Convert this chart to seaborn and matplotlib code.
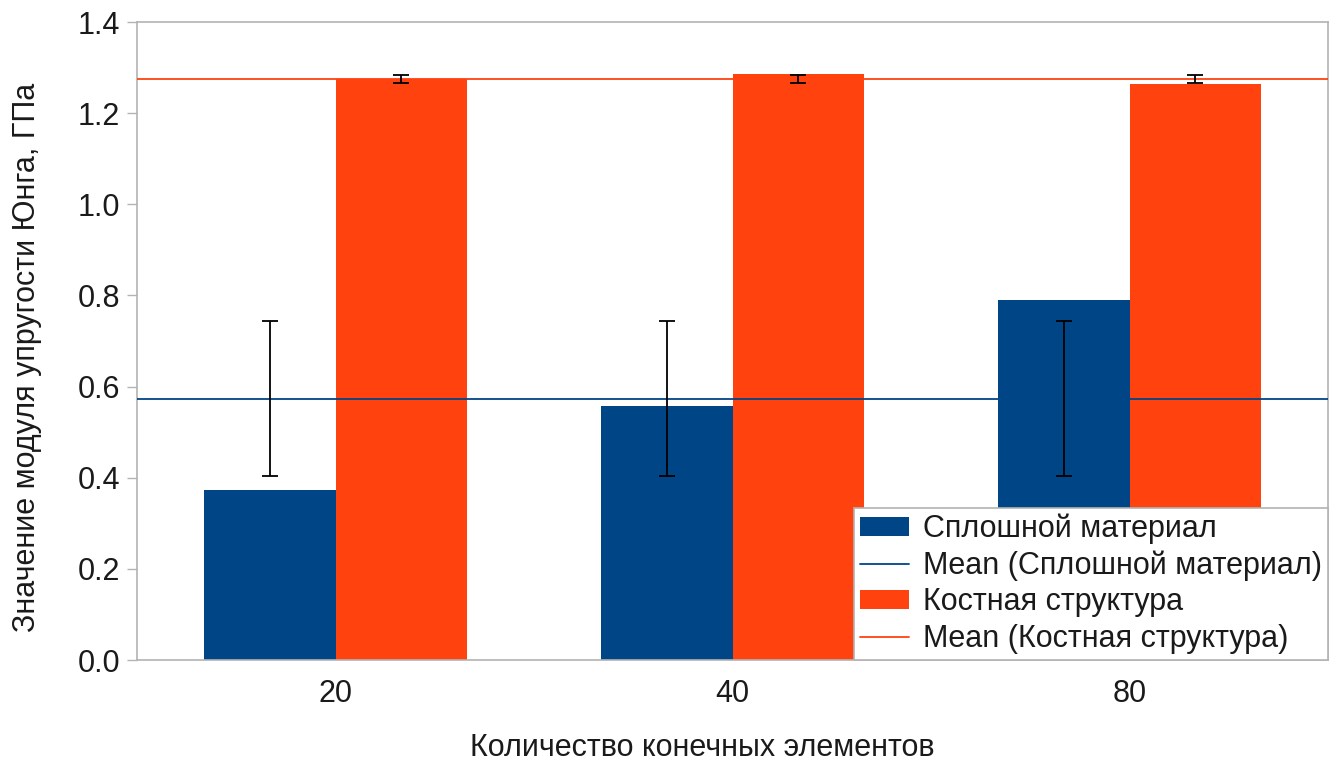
import numpy as np
import pandas as pd
import matplotlib
matplotlib.use("Agg")
import matplotlib.pyplot as plt
from matplotlib.patches import Patch
from matplotlib.lines import Line2D
import seaborn as sns

# Young's modulus (GPa) versus number of finite elements
elements = ["20", "40", "80"]
solid = [0.373, 0.557, 0.790]
bone = [1.275, 1.286, 1.264]
series_names = ["Сплошной материал", "Костная структура"]
mean_names = ["Mean (Сплошной материал)", "Mean (Костная структура)"]
y_ticks = [0.0, 0.2, 0.4, 0.6, 0.8, 1.0, 1.2, 1.4]
x_title = "Количество конечных элементов"
y_title = "Значение модуля упругости Юнга, ГПа"

colors = ["#004586", "#ff420e"]
frame_col = "#b3b3b3"
text_col = "#1a1a1a"
fs = 22

sns.set_theme(style="white")
plt.rcParams["font.family"] = ["Liberation Sans", "DejaVu Sans"]

df = pd.DataFrame({
    "n": elements * 2,
    "E": solid + bone,
    "series": [series_names[0]] * 3 + [series_names[1]] * 3,
})

W, H = 1336, 764
fig = plt.figure(figsize=(W / 100, H / 100), dpi=100)
ax = fig.add_axes([137 / W, 1 - 660 / H, (1328 - 137) / W, (660 - 22) / H])

sns.barplot(data=df, x="n", y="E", hue="series", order=elements,
            hue_order=series_names, palette=colors, width=0.66,
            errorbar=None, saturation=1, ax=ax, legend=False,
            edgecolor="none", linewidth=0)

# mean lines and standard-deviation bars centred on each series mean
for k, vals in enumerate([solid, bone]):
    m = float(np.mean(vals))
    s = float(np.std(vals))
    ax.axhline(m, color=colors[k], lw=1.3, zorder=3)
    cont = ax.containers[k]
    xs = [p.get_x() + p.get_width() / 2 for p in cont]
    ax.errorbar(xs, [m] * len(xs), yerr=s, fmt="none", ecolor="black",
                elinewidth=1.3, capsize=6, capthick=1.3, zorder=4)

ax.set_xlim(-0.5, 2.5)
ax.set_ylim(0, 1.4)
ax.set_yticks(y_ticks)
ax.set_yticklabels([f"{v:.1f}" for v in y_ticks])
ax.set_xticks(range(len(elements)))
ax.set_xticklabels(elements)
ax.set_xticks([-0.5, 0.5, 1.5, 2.5], minor=True)
ax.tick_params(axis="x", which="major", length=0, pad=14, labelsize=fs, labelcolor=text_col)
ax.tick_params(axis="x", which="minor", length=6, width=1, color=frame_col, direction="out")
ax.tick_params(axis="y", length=7, width=1, color=frame_col, direction="out",
               labelsize=fs, labelcolor=text_col, pad=5, left=True)

for sp in ax.spines.values():
    sp.set_visible(True)
    sp.set_color(frame_col)
    sp.set_linewidth(1.2)

ax.set_xlabel("")
ax.set_ylabel("")
fig.text(702 / W, 1 - 748 / H, x_title, fontsize=fs, color=text_col,
         ha="center", va="center")
fig.text(27 / W, 1 - 357 / H, y_title, fontsize=fs, color=text_col,
         ha="center", va="center", rotation=90)

handles = [
    Patch(facecolor=colors[0], edgecolor="none"),
    Line2D([], [], color=colors[0], lw=1.3),
    Patch(facecolor=colors[1], edgecolor="none"),
    Line2D([], [], color=colors[1], lw=1.3),
]
labels = [series_names[0], mean_names[0], series_names[1], mean_names[1]]
leg = ax.legend(handles, labels, loc="lower right", borderaxespad=0,
                fontsize=fs, frameon=True, fancybox=False, framealpha=1,
                edgecolor=frame_col, handlelength=1.6, handleheight=0.6,
                handletextpad=0.45, labelspacing=0.21, borderpad=0.2)
leg.get_frame().set_linewidth(1.2)
leg.set_zorder(5)
for t in leg.get_texts():
    t.set_color(text_col)

fig.savefig("out.png", dpi=100, facecolor="white")
